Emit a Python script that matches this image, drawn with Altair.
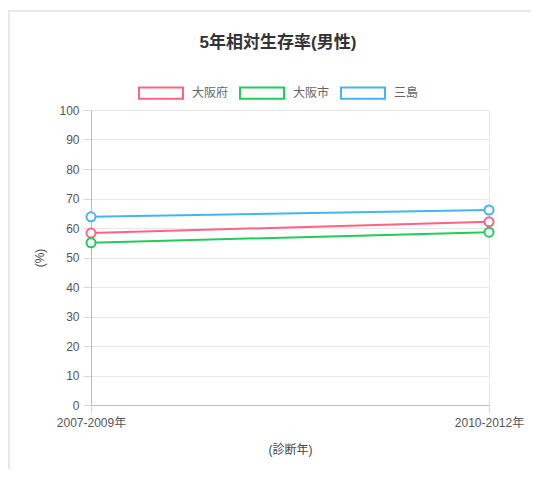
import altair as alt
import pandas as pd

periods = ["2007-2009年", "2010-2012年"]
regions = ["大阪府", "大阪市", "三島"]
colors = ["#ff6384", "#1fcc5c", "#45b4f0"]
osaka_fu = [58.3, 62.1]
osaka_shi = [55.0, 58.6]
mishima = [63.8, 66.1]

rows = []
for r, vals in zip(regions, [osaka_fu, osaka_shi, mishima]):
    for p, v in zip(periods, vals):
        rows.append({"地域": r, "診断年": p, "率": v})
df = pd.DataFrame(rows)

FONT = "Liberation Sans, Noto Sans CJK JP"
W, H = 398, 295

x = alt.X("診断年:N", sort=periods,
          scale=alt.Scale(type="point", padding=0),
          axis=alt.Axis(title="(診断年)", labelAngle=0, tickSize=8, labelPadding=4,
                        titlePadding=16, grid=True))
y = alt.Y("率:Q", scale=alt.Scale(domain=[0, 100]),
          axis=alt.Axis(values=list(range(0, 101, 10)), title="(%)", tickSize=8,
                        labelPadding=4, titlePadding=12))
color = alt.Color("地域:N", scale=alt.Scale(domain=regions, range=colors),
                  legend=alt.Legend(title=None, orient="none", direction="horizontal",
                                    legendX=47, legendY=-40,
                                    symbolType="M-1,-0.26H1V0.26H-1Z", symbolSize=1936,
                                    symbolStrokeWidth=2, symbolFillColor="white",
                                    labelOffset=8, columnPadding=7, padding=0,
                                    labelFontSize=12, labelColor="#666", labelFont=FONT))

frame = alt.Chart(pd.DataFrame({"a": [0]})).mark_rect(
    fill="transparent", stroke="#e8e8e8", strokeWidth=2
).encode(x=alt.value(-82), x2=alt.value(W + 120), y=alt.value(-99), y2=alt.value(H + 120))

line = alt.Chart(df).mark_line(strokeWidth=2).encode(x=x, y=y, color=color)
pts = alt.Chart(df).mark_point(shape="circle", size=81, filled=False, fill="white",
                               fillOpacity=1, strokeWidth=2, opacity=1).encode(
    x=x, y=y, color=alt.Color("地域:N", scale=alt.Scale(domain=regions, range=colors), legend=None))

chart = alt.layer(frame, line, pts).properties(
    width=W, height=H,
    autosize=alt.AutoSizeParams(type="none"),
    padding={"left": 83, "top": 102, "right": 42, "bottom": 64},
    title=alt.TitleParams("5年相対生存率(男性)", fontSize=17, fontWeight="bold",
                          color="#333", font=FONT, dx=-12, dy=42, offset=0, anchor="middle"),
).configure_view(stroke=None).configure_axis(
    labelFont=FONT, titleFont=FONT, labelFontSize=12, titleFontSize=12,
    labelColor="#555", titleColor="#444", titleFontWeight="normal",
    gridColor="#e8e8e8", tickColor="#d8d8d8", domainColor="#bbbbbb",
)

chart.save("out.html", embed_options={"renderer": "svg", "actions": False})
